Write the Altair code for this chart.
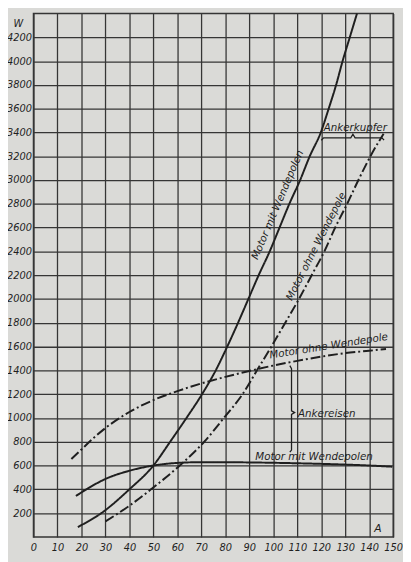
import altair as alt
import pandas as pd

# ---- data (A = current, W = losses) ----
cu_mit_A = [18.5, 28.3, 40, 50, 57, 63.8, 70.3, 76, 80.8, 85.3, 89.6, 93.9, 98.5, 102.6,
            106.7, 111.2, 115.2, 119.8, 123.1, 126.2, 128.9, 131.9, 134.9]
cu_mit_W = [83, 200, 400, 600, 800, 1000, 1200, 1400, 1600, 1800, 2000, 2200, 2400, 2600,
            2800, 3000, 3200, 3400, 3600, 3800, 4000, 4200, 4400]

cu_ohne_A = [30, 40, 49, 61, 71.2, 79.4, 87.2, 93.2, 99.2, 105, 110.7, 116, 121.3, 125.8,
             130.8, 135.5, 140.5, 146]
cu_ohne_W = [130, 262, 400, 600, 800, 1000, 1200, 1400, 1600, 1800, 2000, 2200, 2400, 2600,
             2800, 3000, 3200, 3390]

fe_mit_A = [17.7, 25, 30, 40, 50, 60, 70, 80, 90, 100, 110, 120, 130, 140, 149.6]
fe_mit_W = [344, 435, 487, 556, 600, 622, 628, 628, 626, 623, 619, 614, 608, 600, 590]

fe_ohne_A = [15.8, 20, 25, 30, 40, 50, 60, 70, 80, 90, 100, 110, 120, 130, 140, 147]
fe_ohne_W = [655, 735, 830, 915, 1050, 1150, 1225, 1290, 1345, 1395, 1440, 1480, 1515, 1545, 1565, 1580]

# bracket annotations (data units)
kupfer_A = [120, 121, 132.3, 133.2, 134.1, 145.3, 146.2]
kupfer_W = [3335, 3355, 3355, 3385, 3355, 3355, 3335]
eisen_A = [106.9, 107.6, 107.6, 108.9, 107.6, 107.6, 106.9]
eisen_W = [1440, 1415, 1060, 1045, 1030, 730, 712]

labels = ["Motor mit Wendepolen", "Motor ohne Wendepole", "Motor mit Wendepolen",
          "Motor ohne Wendepole", "Ankerkupfer", "Ankereisen"]
label_A = [117, 123.3, 103.0, 119.0, 134.2, 122.3]
label_W = [648, 1578, 2780, 2430, 3415, 1010]
label_angle = [0, 351, 293, 297, 0, 0]

x_ticks = list(range(0, 151, 10))
y_ticks = list(range(200, 4201, 200))

# ---- build tables ----
rows = []
for name, A, W, style in [("cu_mit", cu_mit_A, cu_mit_W, "solid"),
                          ("cu_ohne", cu_ohne_A, cu_ohne_W, "dashdot"),
                          ("fe_mit", fe_mit_A, fe_mit_W, "solid"),
                          ("fe_ohne", fe_ohne_A, fe_ohne_W, "dashdot")]:
    for a, w in zip(A, W):
        rows.append({"series": name, "A": a, "W": w, "style": style})
curves = pd.DataFrame(rows)

brows = []
for name, A, W in [("kupfer", kupfer_A, kupfer_W), ("eisen", eisen_A, eisen_W)]:
    for i, (a, w) in enumerate(zip(A, W)):
        brows.append({"b": name, "i": i, "A": a, "W": w})
brackets = pd.DataFrame(brows)

texts = pd.DataFrame({"t": labels, "A": label_A, "W": label_W, "ang": label_angle})

FONT = "DejaVu Sans"
INK = "#1f1f1f"
GRID = "#353535"
PAPER = "#dadad7"

x_scale = alt.Scale(domain=[0, 150], nice=False, zero=False)
y_scale = alt.Scale(domain=[0, 4400], nice=False, zero=False)

x_axis = alt.Axis(values=x_ticks, tickCount=16, grid=True, gridColor=GRID, gridWidth=1.3,
                  gridOpacity=1, domain=False, ticks=False, format="d", labelFont=FONT,
                  labelFontStyle="italic", labelFontSize=10, labelColor=INK, labelPadding=6,
                  labelFlush=False, labelOverlap=False, title="A", titleFont=FONT,
                  titleFontStyle="italic", titleFontWeight="normal", titleFontSize=11,
                  titleColor=INK, titleX=351, titleY=-8, titleAlign="center",
                  titleBaseline="middle")
y_axis = alt.Axis(values=y_ticks, tickCount=22, grid=True, gridColor=GRID, gridWidth=1.3,
                  gridOpacity=1, domain=False, ticks=False, format="d", labelFont=FONT,
                  labelFontStyle="italic", labelFontSize=10, labelColor=INK, labelPadding=2,
                  labelOverlap=False, labelFlush=False, title="W", titleFont=FONT,
                  titleFontStyle="italic", titleFontWeight="normal", titleFontSize=10,
                  titleColor=INK, titleAngle=0, titleX=-16, titleY=10, titleAlign="center",
                  titleBaseline="middle")

X = alt.X("A:Q", scale=x_scale, axis=x_axis)
Y = alt.Y("W:Q", scale=y_scale, axis=y_axis)

lines = alt.Chart(curves).mark_line(interpolate="monotone", strokeWidth=2, color=INK).encode(
    x=X, y=Y,
    detail="series:N",
    strokeDash=alt.StrokeDash("style:N", legend=None,
                              scale=alt.Scale(domain=["solid", "dashdot"],
                                              range=[[1, 0], [10, 3, 2, 3]])),
)

br = alt.Chart(brackets).mark_line(strokeWidth=1.3, color=INK).encode(
    x=X, y=Y,
    detail="b:N",
    order="i:Q",
)

txt = alt.Chart(texts).mark_text(font=FONT, fontStyle="italic", fontSize=10.5, color=INK,
                                 align="center", baseline="alphabetic").encode(
    x=X, y=Y,
    text="t:N",
    angle=alt.Angle("ang:Q", scale=None),
)

chart = alt.layer(lines, br, txt).properties(
    width=367, height=534,
    autosize=alt.AutoSizeParams(type="none"),
    padding={"left": 26, "top": 0, "right": 10, "bottom": 20},
    background=PAPER,
).configure_view(stroke=GRID, strokeWidth=1.5, fill=PAPER)

chart.save("out.html", embed_options={"renderer": "svg", "actions": False})
